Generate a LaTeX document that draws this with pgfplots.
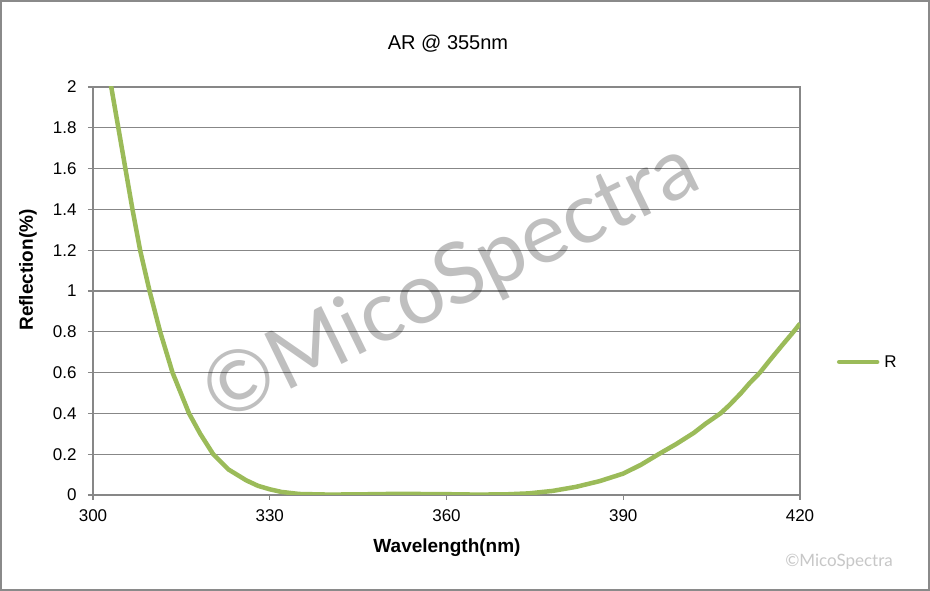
\documentclass[border=0pt]{standalone}
\usepackage{pgfplots}
\pgfplotsset{compat=1.18}
\usepackage{fontspec}
\setmainfont{Liberation Sans}
\newfontfamily\lato{Lato}
\definecolor{curve}{HTML}{9BBB59}
\definecolor{gridc}{HTML}{878787}
\definecolor{framec}{HTML}{8A8A8A}
\begin{document}
\begin{tikzpicture}[x=1pt,y=1pt]
\useasboundingbox (0,0) rectangle (930,591);
\fill[white] (0,0) rectangle (930,591);
\begin{axis}[
  at={(93pt,96pt)}, anchor=south west, scale only axis,
  width=707pt, height=408pt,
  xmin=300, xmax=420, ymin=0, ymax=2,
  xtick={300,330,360,390,420},
  ytick={0,0.2,0.4,0.6,0.8,1,1.2,1.4,1.6,1.8,2},
  yticklabels={0,0.2,0.4,0.6,0.8,1,1.2,1.4,1.6,1.8,2},
  xtick pos=bottom, ytick pos=left, tick align=outside,
  major tick length=5pt,
  axis line style={gridc, line width=1.3pt},
  tick style={gridc, line width=1.3pt},
  ymajorgrids, grid style={gridc, line width=1.3pt},
  ticklabel style={font=\fontsize{17}{20}\selectfont},
  /pgf/number format/assume math mode=true,
  yticklabel style={xshift=-8pt},
  xticklabel style={yshift=-6pt},
  legend style={draw=none, fill=none, at={(1.052,0.326)}, anchor=west,
    font=\fontsize{17}{20}\selectfont, inner sep=0pt, nodes={inner sep=5pt}},
  legend image code/.code={\draw[#1, line cap=round] (0pt,0pt) -- (38pt,0pt);},
]
\addplot[curve, line width=4.5pt, line join=round] coordinates {
(302.9,2.05) (303.1,2.0) (304.3,1.8) (305.5,1.6) (306.7,1.4) (308.0,1.2) (309.6,1.0)
(311.4,0.8) (313.5,0.6) (316.3,0.4) (318.2,0.3) (320.4,0.2) (323,0.125)
(326,0.072) (328,0.045) (330,0.028) (332,0.015) (335,0.005) (340,0.002)
(345,0.003) (350,0.005) (355,0.005) (360,0.004) (365,0.002) (370,0.003)
(374,0.008) (378,0.02) (382,0.04) (386,0.068) (390,0.105) (393,0.148)
(396,0.2) (399,0.25) (402,0.305) (404,0.35) (406.5,0.4) (408,0.44) (410,0.5)
(411.5,0.55) (413.2,0.6) (415,0.665) (417,0.735) (418.9,0.8) (420,0.84)
};
\addlegendentry{R}
\end{axis}
\node[font=\fontsize{20}{24}\selectfont] at (448,547) {AR @ 355nm};
\node[font=\bfseries\fontsize{19}{22}\selectfont] at (447,43) {Wavelength(nm)};
\node[font=\bfseries\fontsize{19}{22}\selectfont, rotate=90] at (28,321) {Reflection(\%)};
\node[font=\lato\fontsize{85}{90}\selectfont, text=black, text opacity=0.25, rotate=26] at (452,307) {©MicoSpectra};
\node[font=\lato\fontsize{17}{20}\selectfont, text=black!22] at (839,29) {©MicoSpectra};
\draw[framec, line width=2pt] (1,1) rectangle (929,590);
\end{tikzpicture}
\end{document}
